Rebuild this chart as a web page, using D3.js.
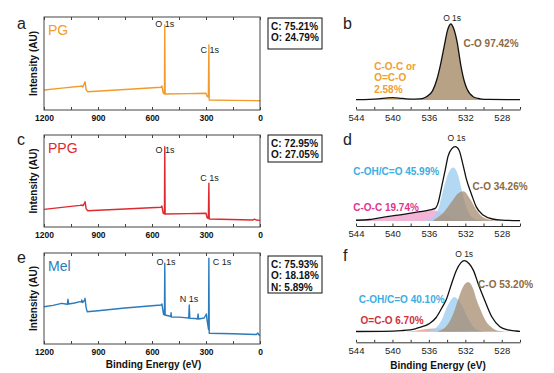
<!DOCTYPE html>
<html>
<head>
<meta charset="utf-8">
<script src="https://cdnjs.cloudflare.com/ajax/libs/d3/7.8.5/d3.min.js"></script>
<style>
body { margin: 0; background: #fff; }
text { font-family: "Liberation Sans", Arial, sans-serif; }
</style>
</head>
<body>
<div id="fig"></div>
<script>
// survey spectra, [binding energy, intensity]
var pgSurvey = [[1200,21.5],[1100,23.5],[1000,25.5],[989,25.8],[984,24.8],[975,29],[972,30.4],[966,22],[958,19.7],[750,22],[550,24.4],[545,25.8],[538,18.5],[531,17.2],[529,91.4],[527,17.2],[400,17.6],[300,18],[293,14.5],[287,14],[284,70],[282,10.8],[150,10.4],[0,10]];
var ppgSurvey = [[1200,19.2],[1000,23.5],[989,23.9],[984,23],[975,26],[972,27.5],[966,20],[958,17.7],[750,19.5],[550,21.4],[545,22.8],[538,15],[531,14.1],[529,87.3],[527,14.1],[400,14.5],[300,14.9],[293,9.8],[287,9.5],[284,47.5],[282,8.7],[40,7.6],[30,8.5],[22,7.6],[0,7.2]];
var melSurvey = [[1200,41],[1150,42.5],[1102,44.7],[1080,44],[1070,43.5],[1067,49.1],[1063,44],[1030,45],[1000,46.5],[992,46],[990,48.4],[985,45.6],[975,48],[972,50.2],[966,40],[960,35.5],[900,36.5],[750,39.5],[600,42],[550,42.9],[545,44],[536,32.5],[531,31.9],[529,88.7],[527,31.9],[500,30.5],[496,30.2],[494,34.4],[492,29.7],[450,29.5],[420,29],[396,28.6],[393,42.9],[390,28.2],[360,28],[347,27.5],[344,33],[341,27.5],[310,28.6],[298,33],[294,26],[289,20],[286,16],[284,94.2],[282,11.8],[150,11.2],[20,10.4],[12,12],[6,9.9],[0,9.9]];

var surveyTicks = [1200,1050,900,750,600,450,300,150,0];
var surveyLabels = [1200,900,600,300,0];

// element composition boxes
var pgComp = ["C: 75.21%", "O: 24.79%"];
var ppgComp = ["C: 72.95%", "O: 27.05%"];
var melComp = ["C: 75.93%", "O: 18.18%", "N: 5.89%"];

// survey peak labels [text, BE, intensity, anchor]
var pgPeaks = [["O 1s",529,89],["C 1s",279,61]];
var ppgPeaks = [["O 1s",528,80],["C 1s",281,50]];
var melPeaks = [["O 1s",522,87],["C 1s",262,87,"start"],["N 1s",394,46]];

// O 1s high resolution, [binding energy, % of peak]
var bEnvelope = [[544,0.5],[542.5,0.8],[541.5,1.5],[540.5,2.8],[540,3],[539.3,2.6],[538.5,1.6],[537.5,1.2],[537,1.4],[536.3,4],[535.6,12],[535.1,28],[534.7,48],[534.3,72],[533.95,92],[533.6,100],[533.25,93],[532.9,76],[532.5,46],[532.1,24],[531.8,14],[531.1,4],[530.4,1.6],[529.5,0.8],[526,0.5]];
var bCO = [[538,0],[537,0.9],[536.3,3.6],[535.6,12],[535.1,28],[534.7,48],[534.3,72],[533.95,92],[533.6,100],[533.25,93],[532.9,76],[532.5,46],[532.1,24],[531.8,14],[531.1,4],[530.4,1.6],[529.5,0.8],[526,0.5]];
var bCOC = [[543,0],[542,0.6],[541,1.8],[540.2,2.6],[539.5,2.2],[538.5,1.2],[537.5,0.5],[536.5,0]];

var dEnvelope = [[544,1],[542.5,2],[540.6,6],[538.8,9],[537,12.5],[535.9,15],[535.3,17],[535,24],[534.6,46],[534.2,69],[533.9,87],[533.5,97],[533.1,100],[532.7,95.5],[532.3,78],[531.9,57],[531.3,35],[530.8,19],[530.05,8],[529,2.7],[528,1.2],[526,0.5]];
var dPink = [[544,0.5],[542.5,1.5],[540.6,5],[538.8,9],[537,12.5],[536,14.5],[535.3,14],[534.7,11],[534,7],[533.2,3.5],[532.3,1.2],[531,0.3],[529,0]];
var dBlue = [[536.5,0.5],[535.5,5],[535,15],[534.6,33],[534.2,52],[533.8,66],[533.3,72],[532.8,62],[532.4,42],[531.9,19],[531.4,7],[530.8,2],[530,0.3]];
var dBrown = [[535.5,1],[534.5,10],[533.5,26],[532.8,37],[532.2,40],[531.5,30],[530.8,15],[530.05,5],[529,1],[528,0.2]];

var fEnvelope = [[544,0.3],[541,0.5],[539,1.5],[537.5,4],[537,6],[536,11],[535.2,20],[534.6,33],[534.1,45],[533.5,68],[533,86],[532.5,97],[532.1,100],[531.6,96],[531.1,86],[530.6,68],[529.9,45],[529.1,21],[528.2,7],[527.3,2.5],[526.4,1],[526,0.5]];
var fRed = [[538.5,0.2],[537.5,1.5],[536.5,3.5],[535.5,4.5],[534.5,4.5],[533.5,3],[532.5,1.2],[531.5,0.3]];
var fBlue = [[536.5,0.5],[535.3,5],[534.6,16.5],[534,35],[533.5,46],[533.2,49],[532.8,45],[532.3,35],[531.8,21],[531.5,14],[530.8,3],[530,0.3]];
var fBrown = [[535,0.5],[534,9],[533.3,26],[532.8,45],[532.3,62],[531.7,70],[531.1,59],[530.8,46],[530.4,33],[529.7,14],[529,5],[528.2,1],[527,0]];

var hrTicks = d3.range(526, 545, 2);

var svg = d3.select("#fig").append("svg")
    .attr("width", 554)
    .attr("height", 373);

var xSurvey = d3.scaleLinear().domain([1200, 0]).range([44, 260]);
var xHR = d3.scaleLinear().domain([544, 526]).range([356, 520]);

function panelLetter(s, x, y) {
    svg.append("text").attr("x", x).attr("y", y)
        .style("font-size", "16px").attr("fill", "#222").text(s);
}

function drawSurvey(p) {
    var y = d3.scaleLinear().domain([0, 100]).range([p.bottom, p.top]);
    var g = svg.append("g");

    g.append("path").datum(p.data)
        .attr("fill", "none")
        .attr("stroke", p.color)
        .attr("stroke-width", 1.4)
        .attr("stroke-linejoin", "round")
        .attr("d", d3.line().x(function(d) { return xSurvey(d[0]); }).y(function(d) { return y(d[1]); }));

    g.append("rect")
        .attr("x", xSurvey(1200)).attr("y", p.top)
        .attr("width", xSurvey(0) - xSurvey(1200)).attr("height", p.bottom - p.top)
        .attr("fill", "none").attr("stroke", "#444").attr("stroke-width", 1);

    var bottomAxis = g.append("g")
        .attr("transform", "translate(0," + p.bottom + ")")
        .call(d3.axisBottom(xSurvey).tickValues(surveyTicks)
            .tickSizeInner(-3).tickSizeOuter(0).tickPadding(4.5)
            .tickFormat(function(d) { return surveyLabels.indexOf(d) >= 0 ? d : ""; }));
    bottomAxis.select(".domain").remove();
    bottomAxis.selectAll("line").attr("stroke", "#444");
    bottomAxis.selectAll("text").style("font-size", "8.5px").style("font-weight", "bold")
        .style("font-family", "'Liberation Sans', Arial, sans-serif").attr("fill", "#111");

    var topAxis = g.append("g")
        .attr("transform", "translate(0," + p.top + ")")
        .call(d3.axisTop(xSurvey).tickValues(surveyTicks).tickSizeInner(-3).tickSizeOuter(0).tickFormat(""));
    topAxis.select(".domain").remove();
    topAxis.selectAll("line").attr("stroke", "#444");

    g.append("text")
        .attr("transform", "translate(37," + ((p.top + p.bottom) / 2) + ") rotate(-90)")
        .attr("text-anchor", "middle")
        .style("font-size", "10px").style("font-weight", "bold")
        .attr("fill", "#111")
        .text("Intensity (AU)");

    g.append("text").attr("x", xSurvey(1200) + 4).attr("y", p.top + 18)
        .style("font-size", "14px").attr("fill", p.color).text(p.name);

    g.selectAll(".peaklabel").data(p.peaks).enter().append("text")
        .attr("class", "peaklabel")
        .attr("x", function(d) { return xSurvey(d[1]); })
        .attr("y", function(d) { return y(d[2]); })
        .attr("text-anchor", function(d) { return d[3] || "middle"; })
        .style("font-size", "9px").attr("fill", "#222")
        .text(function(d) { return d[0]; });

    // composition box
    var bh = p.comp.length * 11.5 + p.boxPad;
    g.append("rect").attr("x", 268).attr("y", p.top + p.boxOff)
        .attr("width", 54).attr("height", bh)
        .attr("fill", "#fff").attr("stroke", "#111").attr("stroke-width", 1);
    g.selectAll(".comp").data(p.comp).enter().append("text")
        .attr("class", "comp")
        .attr("x", 271)
        .attr("y", function(d, i) { return p.top + p.boxOff + 11.5 + i * 11.7; })
        .style("font-size", "10px").style("font-weight", "bold").attr("fill", "#111")
        .text(function(d) { return d; });
}

function drawHR(p) {
    var y = d3.scaleLinear().domain([0, 100]).range([p.base, p.peak]);
    var g = svg.append("g");
    var area = d3.area()
        .x(function(d) { return xHR(d[0]); })
        .y0(y(0))
        .y1(function(d) { return y(d[1]); })
        .curve(d3.curveMonotoneX);
    var line = d3.line()
        .x(function(d) { return xHR(d[0]); })
        .y(function(d) { return y(d[1]); })
        .curve(d3.curveMonotoneX);

    p.comps.forEach(function(c) {
        g.append("path").datum(c.data)
            .attr("fill", c.fill).attr("fill-opacity", c.op)
            .attr("d", area);
    });

    g.append("path").datum(p.envelope)
        .attr("fill", "none").attr("stroke", "#111").attr("stroke-width", 1.3)
        .attr("d", line);

    var ax = g.append("g")
        .attr("transform", "translate(0," + p.axisY + ")")
        .call(d3.axisBottom(xHR).tickValues(hrTicks)
            .tickSizeInner(-2.5).tickSizeOuter(0).tickPadding(4.5)
            .tickFormat(function(d) { return (d % 4 === 0) ? d : ""; }));
    ax.select(".domain").attr("stroke", "#333");
    ax.selectAll("line").attr("stroke", "#333");
    ax.selectAll("text").style("font-size", "9.5px")
        .style("font-family", "'Liberation Sans', Arial, sans-serif").attr("fill", "#222");

    g.append("text")
        .attr("x", xHR(p.o1s[0])).attr("y", y(p.o1s[1]))
        .attr("text-anchor", "middle")
        .style("font-size", "8.5px").attr("fill", "#222").text("O 1s");

    p.labels.forEach(function(l) {
        var t = g.append("text")
            .attr("x", xHR(l.be)).attr("y", y(l.v))
            .style("font-size", "10px").style("font-weight", "bold")
            .attr("fill", l.color);
        l.lines.forEach(function(s, i) {
            t.append("tspan").attr("x", xHR(l.be)).attr("dy", i === 0 ? 0 : 11.3).text(s);
        });
    });
}

drawSurvey({data: pgSurvey, color: "#f29b2c", name: "PG", top: 17, bottom: 110,
    peaks: pgPeaks, comp: pgComp, boxOff: 1, boxPad: 8});
drawSurvey({data: ppgSurvey, color: "#de2a2e", name: "PPG", top: 135, bottom: 227,
    peaks: ppgPeaks, comp: ppgComp, boxOff: 0, boxPad: 4});
drawSurvey({data: melSurvey, color: "#2a7bbd", name: "Mel", top: 253, bottom: 344,
    peaks: melPeaks, comp: melComp, boxOff: 3, boxPad: 2.5});

drawHR({base: 100, peak: 24, axisY: 109.5, envelope: bEnvelope, o1s: [533.45, 104],
    comps: [{data: bCOC, fill: "#f5b450", op: 0.9}, {data: bCO, fill: "#b7a286", op: 1}],
    labels: [
        {be: 532.2, v: 70, color: "#8a6a42", lines: ["C-O 97.42%"]},
        {be: 542.0, v: 39.5, color: "#f0a030", lines: ["C-O-C or", "O=C-O", "2.58%"]}
    ]});
drawHR({base: 221, peak: 146.7, axisY: 226, envelope: dEnvelope, o1s: [532.96, 108],
    comps: [{data: dPink, fill: "#ee9ccb", op: 0.75}, {data: dBlue, fill: "#a6d1f1", op: 0.85},
            {data: dBrown, fill: "#a2876a", op: 0.72}],
    labels: [
        {be: 544.3, v: 62, color: "#3aaee2", lines: ["C-OH/C=O 45.99%"]},
        {be: 531.2, v: 41.7, color: "#8d6a40", lines: ["C-O 34.26%"]},
        {be: 544.3, v: 13.9, color: "#e0358e", lines: ["C-O-C 19.74%"]}
    ]});
drawHR({base: 331.7, peak: 260.7, axisY: 342.3, envelope: fEnvelope, o1s: [532.13, 105.6],
    comps: [{data: fRed, fill: "#ea9a88", op: 0.8}, {data: fBlue, fill: "#a6d1f1", op: 0.85},
            {data: fBrown, fill: "#a2876a", op: 0.72}],
    labels: [
        {be: 530.6, v: 61.5, color: "#8d6a40", lines: ["C-O 53.20%"]},
        {be: 543.7, v: 40.8, color: "#3aaee2", lines: ["C-OH/C=O 40.10%"]},
        {be: 543.5, v: 10.8, color: "#d0303a", lines: ["O=C-O 6.70%"]}
    ]});

panelLetter("a", 17, 29);
panelLetter("b", 343, 29);
panelLetter("c", 17, 145);
panelLetter("d", 343, 145);
panelLetter("e", 17, 263);
panelLetter("f", 343, 261);

svg.append("text").attr("x", 153.5).attr("y", 368).attr("text-anchor", "middle")
    .style("font-size", "10px").style("font-weight", "bold").attr("fill", "#111")
    .text("Binding Energy (eV)");
svg.append("text").attr("x", xHR(535)).attr("y", 369).attr("text-anchor", "middle")
    .style("font-size", "10px").style("font-weight", "bold").attr("fill", "#111")
    .text("Binding Energy (eV)");
</script>
</body>
</html>
